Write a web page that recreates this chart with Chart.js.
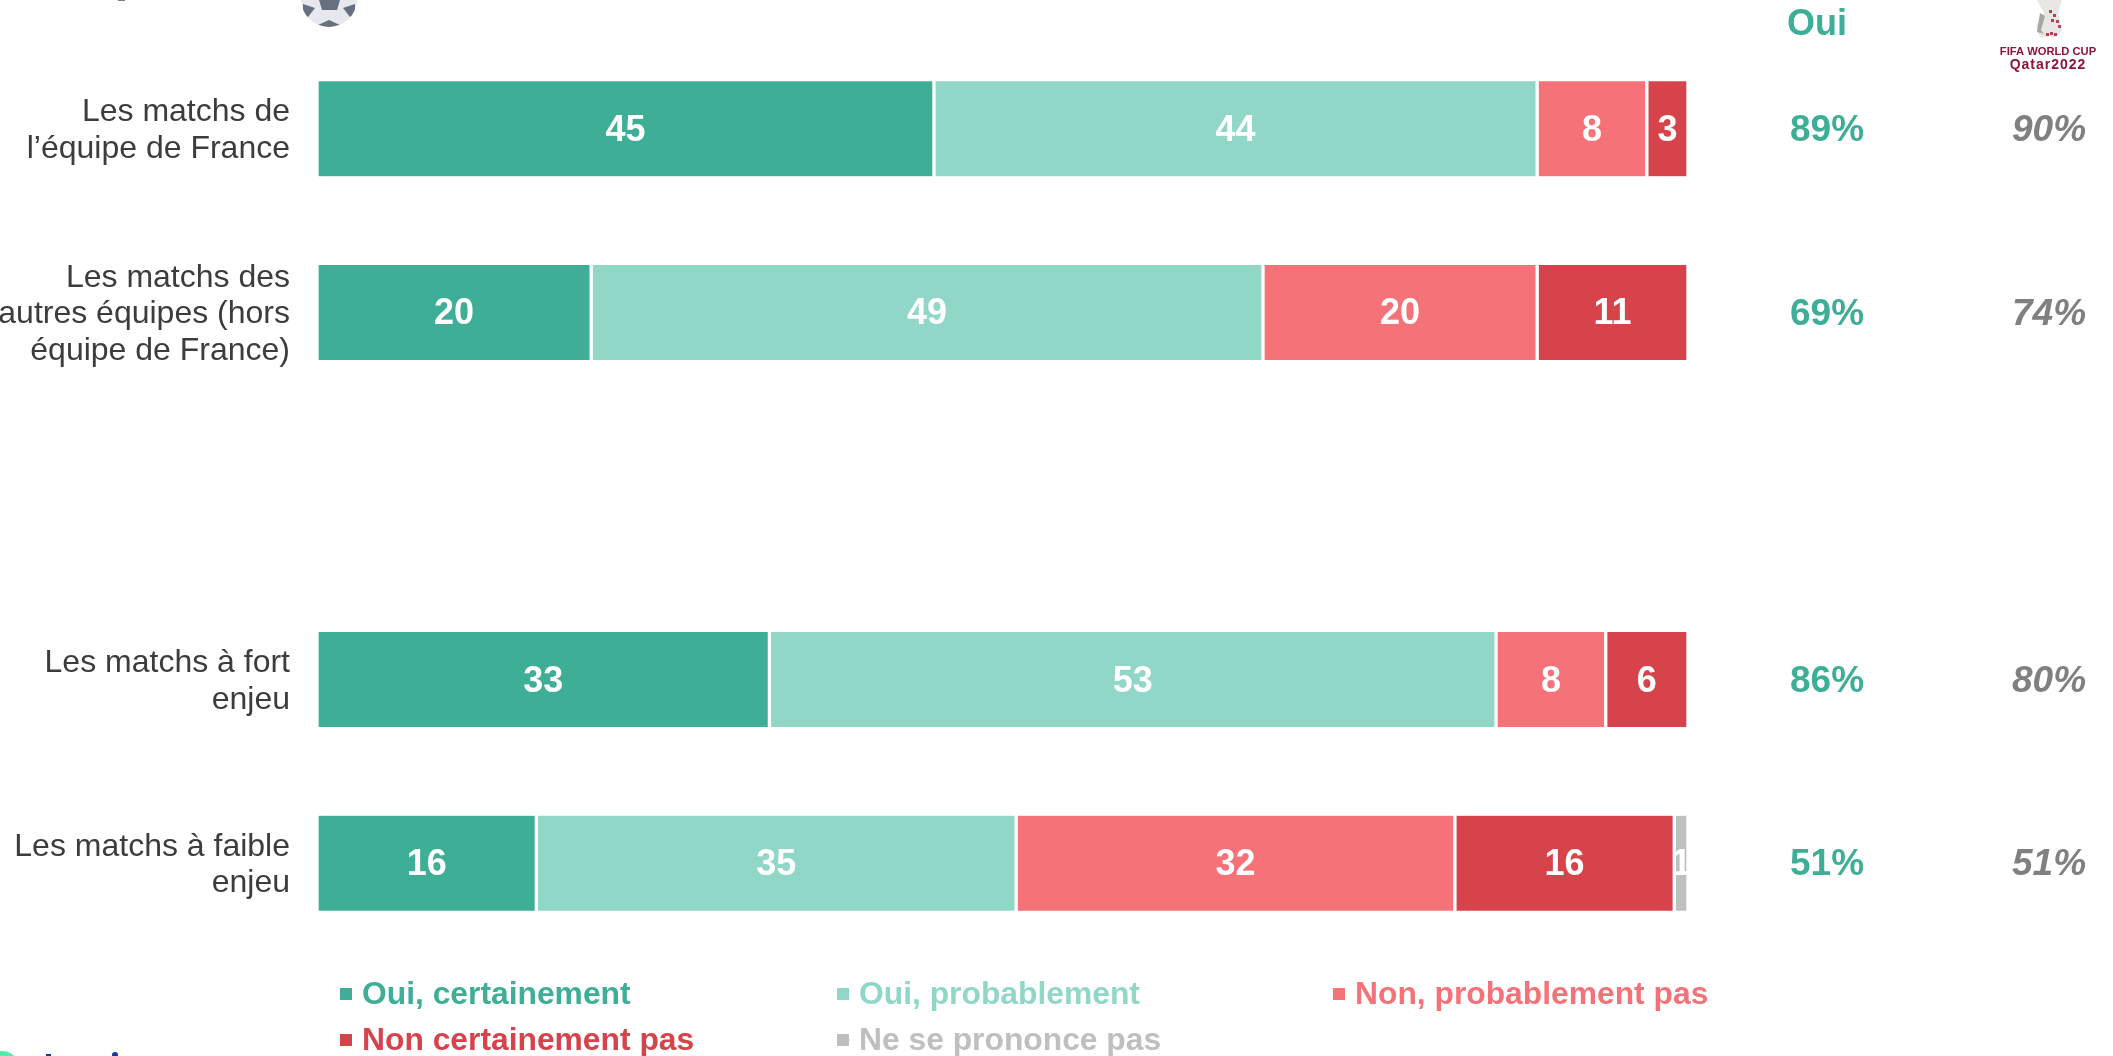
<!DOCTYPE html>
<html lang="fr">
<head>
<meta charset="utf-8">
<title>Matchs de la Coupe du monde</title>
<script src="https://cdn.jsdelivr.net/npm/chart.js@4"></script>
<style>
  html, body { margin: 0; padding: 0; background: #fff; }
  canvas { display: block; }
</style>
</head>
<body>
<canvas id="chart" width="2113" height="1056"></canvas>
<script>
const categories = [
    ["Les matchs de", "l’équipe de France"],
    ["Les matchs des", "autres équipes (hors", "équipe de France)"],
    "",
    ["Les matchs à fort", "enjeu"],
    ["Les matchs à faible", "enjeu"]
];
const ouiCertainement = [45, 20, null, 33, 16];
const ouiProbablement = [44, 49, null, 53, 35];
const nonProbablement = [8, 20, null, 8, 32];
const nonCertainement = [3, 11, null, 6, 16];
const nePrononcePas = [null, null, null, null, 1];
const totalOui = ["89%", "69%", "", "86%", "51%"];
const totalQatar = ["90%", "74%", "", "80%", "51%"];
const seriesLabels = ["Oui, certainement", "Oui, probablement", "Non, probablement pas", "Non certainement pas", "Ne se prononce pas"];
const seriesColors = ["#3eae96", "#90d7c8", "#f57378", "#d6434b", "#bfbfbf"];

const FONT = '"Liberation Sans", Arial, sans-serif';

// descend un peu les libellés de l'axe
const shiftTicks = {
    id: 'shiftTicks',
    beforeDraw(chart) {
        chart.scales.y.getLabelItems(chart.chartArea).forEach(item => {
            item.options.translation[1] += 2;
        });
    }
};

// valeurs blanches au centre de chaque segment
const valueLabels = {
    id: 'valueLabels',
    afterDatasetsDraw(chart) {
        const ctx = chart.ctx;
        ctx.save();
        ctx.font = 'bold 36px ' + FONT;
        ctx.fillStyle = '#fff';
        ctx.textAlign = 'center';
        ctx.textBaseline = 'middle';
        chart.data.datasets.forEach((ds, i) => {
            chart.getDatasetMeta(i).data.forEach((bar, j) => {
                if (ds.data[j] == null) return;
                ctx.fillText(ds.data[j], (bar.x + bar.base) / 2, bar.y + 2);
            });
        });
        ctx.restore();
    }
};

function drawBall(ctx) {
    ctx.save();
    ctx.beginPath();
    ctx.arc(329, -1, 28, 0, Math.PI);
    ctx.clip();
    ctx.fillStyle = '#e6e8ed';
    ctx.fillRect(295, 0, 70, 30);
    ctx.fillStyle = '#667080';
    ctx.beginPath();
    ctx.moveTo(319, 0); ctx.lineTo(340, 0); ctx.lineTo(337, 10); ctx.lineTo(322, 10);
    ctx.fill();
    ctx.beginPath();
    ctx.moveTo(329, 20); ctx.lineTo(318, 25); ctx.lineTo(321, 30); ctx.lineTo(337, 30); ctx.lineTo(340, 25);
    ctx.fill();
    ctx.beginPath();
    ctx.moveTo(303, 4); ctx.lineTo(315, 8); ctx.lineTo(308, 17); ctx.lineTo(303, 16);
    ctx.fill();
    ctx.beginPath();
    ctx.moveTo(355, 4); ctx.lineTo(343, 8); ctx.lineTo(350, 17); ctx.lineTo(355, 16);
    ctx.fill();
    ctx.restore();
}

function drawLogo(ctx) {
    ctx.save();
    ctx.textAlign = 'center';
    ctx.textBaseline = 'middle';
    ctx.fillStyle = '#8a1538';
    ctx.font = 'bold 11.2px ' + FONT;
    ctx.fillText("FIFA WORLD CUP", 2048, 52);
    ctx.font = 'bold 14px ' + FONT;
    ctx.letterSpacing = '1px';
    ctx.fillText("Qatar2022", 2048, 65);
    ctx.letterSpacing = '0px';
    // trophée
    ctx.fillStyle = '#e9e7e4';
    ctx.beginPath();
    ctx.moveTo(2037, 0); ctx.lineTo(2062, 0); ctx.lineTo(2058, 14); ctx.lineTo(2062, 30);
    ctx.lineTo(2056, 37); ctx.lineTo(2040, 37); ctx.lineTo(2036, 26); ctx.lineTo(2044, 13);
    ctx.fill();
    ctx.fillStyle = '#a9a7a4';
    ctx.beginPath();
    ctx.moveTo(2040, 13); ctx.lineTo(2045, 16); ctx.lineTo(2041, 30); ctx.lineTo(2044, 34); ctx.lineTo(2037, 32);
    ctx.fill();
    ctx.fillStyle = '#b9405a';
    [[2049, 10], [2053, 14], [2051, 19], [2056, 20], [2058, 25], [2050, 32], [2046, 33], [2054, 33]].forEach(p => {
        ctx.fillRect(p[0], p[1], 3, 3);
    });
    ctx.restore();
}

// morceaux du logo coupé en bas et du titre coupé en haut
function drawCropped(ctx) {
    ctx.save();
    ctx.fillStyle = '#4cf0a8';
    ctx.beginPath();
    ctx.arc(2, 1068, 17, 0, Math.PI * 2);
    ctx.fill();
    ctx.fillStyle = '#1238a0';
    ctx.fillRect(46, 1054, 5, 2);
    ctx.beginPath();
    ctx.arc(115, 1055, 3, 0, Math.PI * 2);
    ctx.fill();
    ctx.fillStyle = '#808080';
    ctx.fillRect(118, 0, 7, 1);
    ctx.restore();
}

// colonnes de droite, légende et pictos
const extras = {
    id: 'extras',
    afterDraw(chart) {
        const ctx = chart.ctx;
        const y = chart.scales.y;
        ctx.save();
        ctx.textBaseline = 'middle';
        ctx.textAlign = 'center';

        ctx.font = 'bold 36px ' + FONT;
        ctx.fillStyle = seriesColors[0];
        ctx.fillText("Oui", 1817, 25);
        ctx.font = 'bold 37px ' + FONT;
        totalOui.forEach((t, i) => ctx.fillText(t, 1827, y.getPixelForValue(i) + 2));

        ctx.font = 'italic bold 37px ' + FONT;
        ctx.fillStyle = '#808080';
        totalQatar.forEach((t, i) => ctx.fillText(t, 2049, y.getPixelForValue(i) + 2));

        // légende
        const legendX = [340, 837, 1333, 340, 837];
        const legendY = [994, 994, 994, 1040, 1040];
        ctx.font = 'bold 31.8px ' + FONT;
        ctx.textAlign = 'left';
        seriesLabels.forEach((label, i) => {
            ctx.fillStyle = seriesColors[i];
            ctx.fillRect(legendX[i], legendY[i] - 6, 12, 12);
            ctx.fillText(label, legendX[i] + 22, legendY[i] + 1);
        });
        ctx.restore();

        drawLogo(ctx);
        drawBall(ctx);
        drawCropped(ctx);
    }
};

new Chart(document.getElementById('chart'), {
    type: 'bar',
    data: {
        labels: categories,
        datasets: seriesLabels.map((label, i) => ({
            label: label,
            data: [ouiCertainement, ouiProbablement, nonProbablement, nonCertainement, nePrononcePas][i],
            backgroundColor: seriesColors[i],
            borderColor: '#fff',
            borderWidth: { left: 2, right: 2, top: 0, bottom: 0 },
            borderSkipped: false,
            barThickness: 95
        }))
    },
    options: {
        indexAxis: 'y',
        responsive: false,
        animation: false,
        layout: { padding: { top: 37, bottom: 101, right: 425, left: 0 } },
        plugins: { legend: { display: false }, tooltip: { enabled: false } },
        scales: {
            x: { stacked: true, min: 0, max: 100, display: false },
            y: {
                stacked: true,
                afterFit(scale) {
                    scale.width = 317;
                    scale.paddingTop = 0;
                    scale.paddingBottom = 0;
                },
                grid: { display: false, drawBorder: false },
                border: { display: false },
                ticks: {
                    autoSkip: false,
                    padding: 19,
                    color: '#3c3c3c',
                    font: { family: FONT, size: 32, lineHeight: 1.14 }
                }
            }
        }
    },
    plugins: [shiftTicks, valueLabels, extras]
});
</script>
</body>
</html>
